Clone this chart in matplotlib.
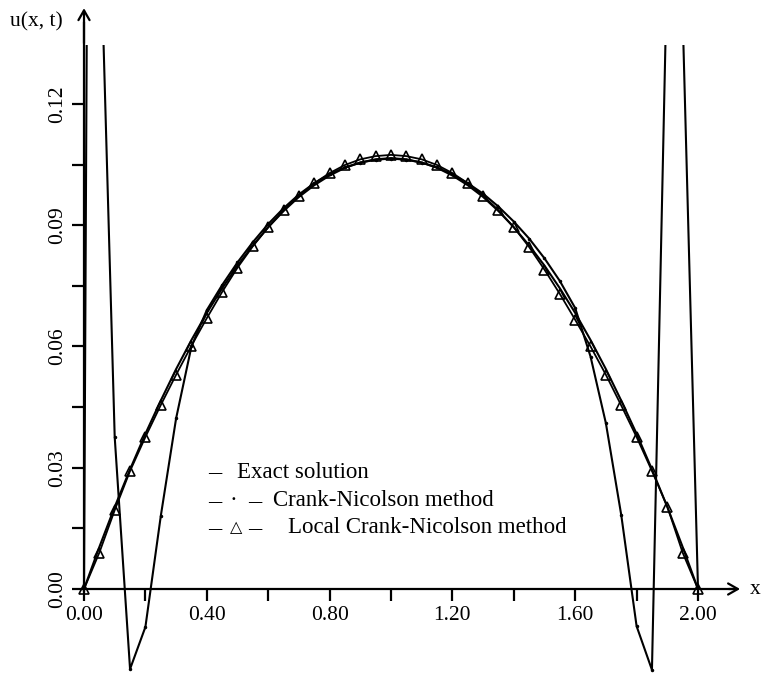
import matplotlib.pyplot as plt
from matplotlib.patches import Rectangle

plt.rcParams['font.family'] = ['Liberation Serif', 'DejaVu Serif']

# grid used for exact solution and local Crank-Nicolson (step 0.05)
x_grid = [0.00, 0.05, 0.10, 0.15, 0.20, 0.25, 0.30, 0.35, 0.40, 0.45,
          0.50, 0.55, 0.60, 0.65, 0.70, 0.75, 0.80, 0.85, 0.90, 0.95,
          1.00, 1.05, 1.10, 1.15, 1.20, 1.25, 1.30, 1.35, 1.40, 1.45,
          1.50, 1.55, 1.60, 1.65, 1.70, 1.75, 1.80, 1.85, 1.90, 1.95, 2.00]

u_exact = [0.0000, 0.0104, 0.0203, 0.0296, 0.0384, 0.0466, 0.0544, 0.0616, 0.0683, 0.0744,
           0.0800, 0.0850, 0.0895, 0.0935, 0.0970, 0.0999, 0.1023, 0.1042, 0.1055, 0.1063,
           0.1066, 0.1063, 0.1055, 0.1042, 0.1023, 0.0999, 0.0970, 0.0935, 0.0895, 0.0850,
           0.0800, 0.0744, 0.0683, 0.0616, 0.0544, 0.0466, 0.0384, 0.0296, 0.0203, 0.0104, 0.0000]

u_local_cn = [0.0000, 0.0090, 0.0195, 0.0292, 0.0376, 0.0455, 0.0530, 0.0602, 0.0670, 0.0735,
              0.0795, 0.0848, 0.0895, 0.0937, 0.0973, 0.1004, 0.1029, 0.1049, 0.1063, 0.1071,
              0.1074, 0.1071, 0.1063, 0.1049, 0.1029, 0.1004, 0.0973, 0.0937, 0.0895, 0.0846,
              0.0790, 0.0730, 0.0666, 0.0600, 0.0530, 0.0454, 0.0376, 0.0292, 0.0204, 0.0090, 0.0000]

# Crank-Nicolson: oscillates near the boundaries
x_cn = [0.00, 0.017, 0.10, 0.15, 0.20, 0.25, 0.30, 0.35, 0.40, 0.45,
        0.50, 0.55, 0.60, 0.65, 0.70, 0.75, 0.80, 0.85, 0.90, 0.95,
        1.00, 1.05, 1.10, 1.15, 1.20, 1.25, 1.30, 1.35, 1.40, 1.45,
        1.50, 1.55, 1.60, 1.65, 1.70, 1.75, 1.80, 1.85, 1.92, 2.00]
u_cn = [0.0000, 0.2600, 0.0376, -0.0198, -0.0094, 0.0180, 0.0422, 0.0600, 0.0690, 0.0752,
        0.0808, 0.0858, 0.0903, 0.0942, 0.0976, 0.1004, 0.1026, 0.1043, 0.1055, 0.1062,
        0.1065, 0.1062, 0.1055, 0.1043, 0.1026, 0.1004, 0.0978, 0.0946, 0.0909, 0.0867,
        0.0818, 0.0762, 0.0695, 0.0575, 0.0410, 0.0183, -0.0092, -0.0200, 0.2270, 0.0000]

x_major = [0.0, 0.4, 0.8, 1.2, 1.6, 2.0]
x_minor = [0.2, 0.6, 1.0, 1.4, 1.8]
y_major = [0.0, 0.03, 0.06, 0.09, 0.12]
y_minor = [0.015, 0.045, 0.075, 0.105]

legend_labels = ['Exact solution', 'Crank-Nicolson method', 'Local Crank-Nicolson method']

fig = plt.figure(figsize=(7.61, 6.73), dpi=100)
ax = fig.add_axes([0, 0, 1, 1])
ax.set_xlim(-84 / 307, (761 - 84) / 307)
ax.set_ylim(-84 / 4042, 589 / 4042)

clip = Rectangle((-0.1, -0.03), 2.4, 0.1646, transform=ax.transData)

lines = []
lines += ax.plot(x_grid, u_exact, color='k', lw=1.5)
lines += ax.plot(x_cn[2:-1], u_cn[2:-1], 'k.', ms=3)
lines += ax.plot(x_cn, u_cn, color='k', lw=1.5)
lines += ax.plot(x_grid, u_local_cn, color='k', lw=1.3, marker='^', ms=7,
                 mfc='none', mec='k', mew=1.2)
for ln in lines:
    ln.set_clip_path(clip)

# axes through the origin
for side in ['top', 'right']:
    ax.spines[side].set_visible(False)
ax.spines['left'].set_position(('data', 0))
ax.spines['bottom'].set_position(('data', 0))
ax.spines['left'].set_bounds(-0.0004, 0.140)
ax.spines['bottom'].set_bounds(-0.006, 2.12)
ax.spines['left'].set_linewidth(1.6)
ax.spines['bottom'].set_linewidth(1.6)

arrow = dict(arrowstyle='->,head_length=0.35,head_width=0.2',
             lw=1.6, color='k', shrinkA=0, shrinkB=0, mutation_scale=20)
ax.annotate('', xy=(0, 0.1437), xytext=(0, 0.135), arrowprops=arrow)
ax.annotate('', xy=(2.137, 0), xytext=(2.1, 0), arrowprops=arrow)

ax.set_xticks(x_major)
ax.set_xticks(x_minor, minor=True)
ax.set_xticklabels([f'{v:.2f}' for v in x_major])
ax.set_yticks(y_major)
ax.set_yticks(y_minor, minor=True)
ax.set_yticklabels([f'{v:.2f}' for v in y_major], rotation=90, va='center')
ax.tick_params(which='both', direction='out', length=8.6, width=1.6,
               labelsize=15.5, pad=3.5)

ax.text(-0.156, 0.1402, 'u(x, t)', fontsize=15.5, ha='center', va='center')
ax.text(2.186, 0.0, 'x', fontsize=15.5, ha='center', va='center')

# hand-made legend: dash / dot / triangle symbols followed by the text
row_y = [0.0289, 0.0218, 0.0151]
label_x = [0.498, 0.616, 0.664]
dash_l, dash_r, mid = 0.427, 0.557, 0.492
for i, (lab, yy, lx) in enumerate(zip(legend_labels, row_y, label_x)):
    ax.text(dash_l, yy, '–', fontsize=19, ha='center', va='center')
    if i == 1:
        ax.text(mid - 0.005, yy, '·', fontsize=16.5, ha='center', va='center')
        ax.text(dash_r, yy, '–', fontsize=19, ha='center', va='center')
    if i == 2:
        ax.text(mid + 0.004, yy, '△', fontsize=11.5, ha='center', va='center',
                family='DejaVu Sans')
        ax.text(dash_r, yy, '–', fontsize=19, ha='center', va='center')
    ax.text(lx, yy, lab, fontsize=16.5, ha='left', va='center')

fig.savefig('out.png', dpi=100)
